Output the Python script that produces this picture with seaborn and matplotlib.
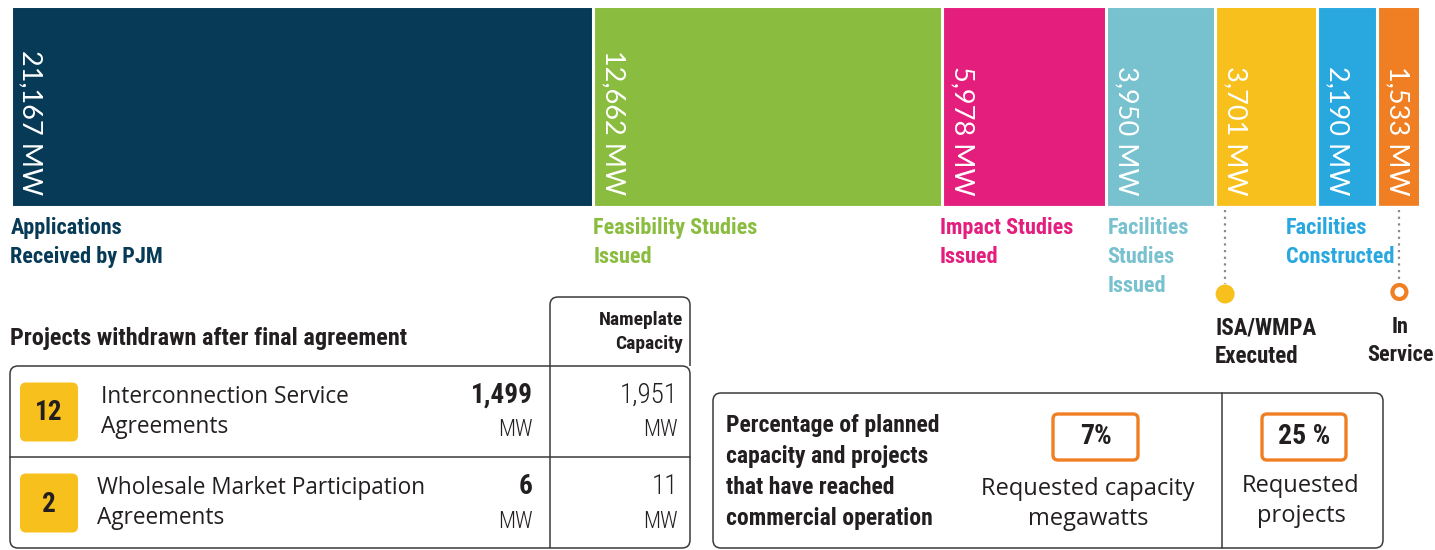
import numpy as np
import pandas as pd
import matplotlib
matplotlib.use("Agg")
import matplotlib.pyplot as plt
import matplotlib.transforms as mtransforms
from matplotlib.patches import FancyBboxPatch, Circle, PathPatch
from matplotlib.path import Path
import seaborn as sns

# Interconnection queue funnel: capacity (MW) reaching each stage
stages = ["Applications Received by PJM", "Feasibility Studies Issued", "Impact Studies Issued",
          "Facilities Studies Issued", "ISA/WMPA Executed", "Facilities Constructed", "In Service"]
stage_labels = ["Applications\nReceived by PJM", "Feasibility Studies\nIssued", "Impact Studies\nIssued",
                "Facilities\nStudies\nIssued", "ISA/WMPA\nExecuted", "Facilities\nConstructed", "In\nService"]
capacity_mw = [21167, 12662, 5978, 3950, 3701, 2190, 1533]
stage_colors = ["#063a56", "#8abd3f", "#e41e7d", "#78c1cf", "#f8c01c", "#29a8df", "#ef7f22"]

# Projects withdrawn after final agreement
agreement_types = ["Interconnection Service\nAgreements", "Wholesale Market Participation\nAgreements"]
withdrawn_projects = [12, 2]
withdrawn_mw = [1499, 6]
nameplate_mw = [1951, 11]

# Share of the queue that reached commercial operation
pct_capacity = 7
pct_projects = 25

W, H = 1435, 550
sns.set_theme(style="white")
COND = ["Roboto Condensed", "Liberation Sans Narrow", "Roboto", "DejaVu Sans"]
BODY = ["Open Sans", "DejaVu Sans"]
NUM = ["Lato", "DejaVu Sans"]
plt.rcParams["font.family"] = BODY
INK = "#231f20"
LINE = "#3a3a3a"
DOTS = "#8a8a8a"

fig = plt.figure(figsize=(W / 100, H / 100), dpi=100)
fig.patch.set_facecolor("white")


def fig_rect(x0, y0, x1, y1):
    return [x0 / W, 1 - y1 / H, (x1 - x0) / W, (y1 - y0) / H]


def cond(ax, x, y, s, size, weight="bold", **kw):
    return ax.text(x, y, s, fontsize=size, fontweight=weight,
                   family=COND, fontstretch="condensed", **kw)


# ---- funnel bar: one segment per stage, width proportional to MW ----
bar_ax = fig.add_axes(fig_rect(10.5, 5.5, 1419.5, 206.5))
edges = np.concatenate([[0], np.cumsum(capacity_mw)]).astype(float)
funnel = pd.DataFrame({"stage": stages,
                       "mid": (edges[:-1] + edges[1:]) / 2})
# one observation per stage, binned on the cumulative MW edges -> each bin is one segment
sns.histplot(data=funnel, x="mid", bins=edges.tolist(), hue="stage",
             hue_order=stages, palette=dict(zip(stages, stage_colors)),
             multiple="layer", element="bars", alpha=1.0,
             edgecolor="white", linewidth=2.2, legend=False, ax=bar_ax)
bar_ax.set_xlim(0, edges[-1])
bar_ax.set_ylim(0, 1)
bar_ax.set_axis_off()

val_tf = mtransforms.offset_copy(bar_ax.transData, fig=fig, x=20, y=0, units="dots")
for left, mw in zip(edges[:-1], capacity_mw):
    bar_ax.text(left, 0.055, f"{mw:,} MW", transform=val_tf, rotation=270,
                ha="center", va="bottom", color="white", fontsize=19.5,
                family=NUM, fontweight="normal")

# ---- overlay in pixel coordinates for annotations and tables ----
ov = fig.add_axes([0, 0, 1, 1])
ov.set_xlim(0, W)
ov.set_ylim(H, 0)
ov.set_axis_off()


def to_px(v):
    """Horizontal pixel position of a MW value on the funnel bar."""
    return bar_ax.transData.transform((v, 0))[0] * 100.0 / fig.dpi


for i, dx in [(0, 0), (1, 0), (2, -2), (3, 1), (5, -31)]:
    cond(ov, to_px(edges[i]) + dx, 217, stage_labels[i], 16, ha="left", va="top",
         color=stage_colors[i], linespacing=1.42)

# connectors for the executed / in-service milestones
isa_x = to_px(edges[4]) + 10
ov.plot([isa_x, isa_x], [210, 284], color=DOTS, lw=1.6, ls=(0, (1, 2)))
ov.add_patch(Circle((isa_x, 294), 9.5, facecolor=stage_colors[4], edgecolor="none"))
cond(ov, to_px(edges[4]), 316, stage_labels[4], 16.5, ha="left", va="top",
     color=INK, linespacing=1.33)

svc_x = to_px((edges[6] + edges[7]) / 2) + 1
ov.plot([svc_x, svc_x], [210, 283], color=DOTS, lw=1.6, ls=(0, (1, 2)))
ov.add_patch(Circle((svc_x, 292), 7, facecolor="white", edgecolor=stage_colors[6], lw=3))
cond(ov, svc_x + 1, 316, stage_labels[6], 16, ha="center", va="top",
     color=INK, linespacing=1.38)


def rbox(x0, y0, x1, y1, r, **kw):
    ov.add_patch(FancyBboxPatch((x0, y0), x1 - x0, y1 - y0,
                                boxstyle=f"round,pad=0,rounding_size={r}", **kw))


# ---- withdrawn projects table ----
cond(ov, 10, 339, "Projects withdrawn after final agreement", 17.5, ha="left",
     va="center", color=INK)
rbox(10, 366, 690, 548, 8, facecolor="none", edgecolor=LINE, lw=1.1)
ov.plot([10, 690], [457, 457], color=LINE, lw=1.1)
r = 8
hdr = Path([(550, 548), (550, 297 + r), (550, 297), (550 + r, 297), (690 - r, 297),
            (690, 297), (690, 297 + r), (690, 366)],
           [Path.MOVETO, Path.LINETO, Path.CURVE3, Path.CURVE3, Path.LINETO,
            Path.CURVE3, Path.CURVE3, Path.LINETO])
ov.add_patch(PathPatch(hdr, facecolor="none", edgecolor=LINE, lw=1.1))
cond(ov, 683, 332, "Nameplate\nCapacity", 14, ha="right", va="center", color=INK,
     linespacing=1.45)

row_mid = [412, 503]
text_x = [101, 97]
for k in range(2):
    y = row_mid[k]
    rbox(20, y - 29.5, 78, y + 29.5, 6, facecolor=stage_colors[4], edgecolor="none")
    cond(ov, 49, y + 1, f"{withdrawn_projects[k]}", 19.5, ha="center", va="center",
         color=INK)
    ov.text(text_x[k], y, agreement_types[k], ha="left", va="center", color=INK,
            fontsize=16.3, family=BODY, linespacing=1.28)
    cond(ov, 533, y - 17, f"{withdrawn_mw[k]:,}", 19.5, ha="right", va="center", color=INK)
    cond(ov, 533, y + 18, "MW", 16.5, weight="light", ha="right", va="center", color=INK)
    cond(ov, 678, y - 17, f"{nameplate_mw[k]:,}", 19.5, weight="light", ha="right",
         va="center", color=INK)
    cond(ov, 678, y + 18, "MW", 16.5, weight="light", ha="right", va="center", color=INK)

# ---- commercial operation share ----
rbox(713, 393, 1383, 548, 8, facecolor="none", edgecolor=LINE, lw=1.1)
ov.plot([1222, 1222], [393, 548], color=LINE, lw=1.1)
cond(ov, 726, 472,
     "Percentage of planned\ncapacity and projects\nthat have reached\ncommercial operation",
     17, ha="left", va="center", color=INK, linespacing=1.46)

rbox(1053, 414, 1138, 460, 5, facecolor="white", edgecolor=stage_colors[6], lw=2.4)
cond(ov, 1096, 437, f"{pct_capacity}%", 20, ha="center", va="center", color=INK)
ov.text(1088, 504, "Requested capacity\nmegawatts", ha="center", va="center", color=INK,
        fontsize=17, family=BODY, linespacing=1.3)

rbox(1262, 414, 1346, 460, 5, facecolor="white", edgecolor=stage_colors[6], lw=2.4)
cond(ov, 1304, 437, f"{pct_projects} %", 20, ha="center", va="center", color=INK)
ov.text(1301, 501, "Requested\nprojects", ha="center", va="center", color=INK,
        fontsize=17, family=BODY, linespacing=1.3)

fig.savefig("out.png", dpi=100, facecolor="white")
